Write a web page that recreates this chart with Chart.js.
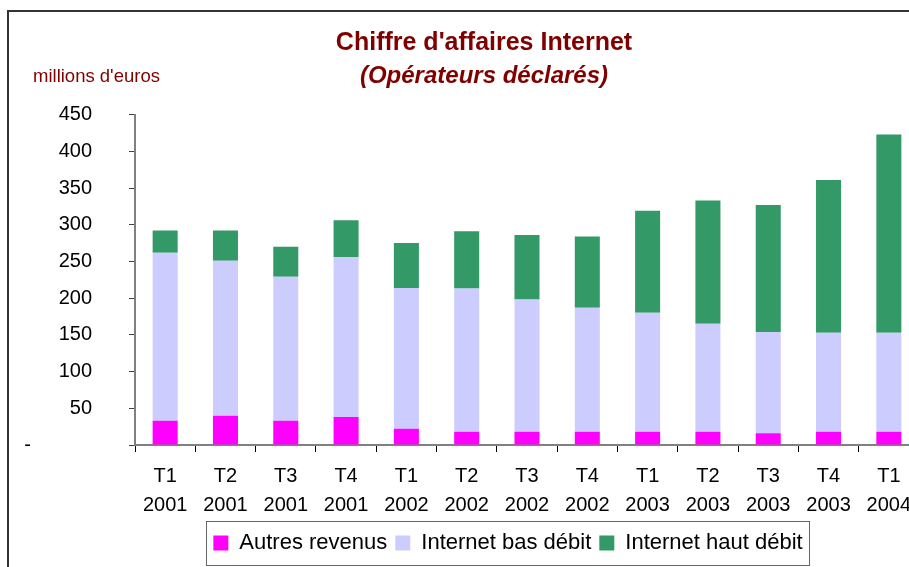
<!DOCTYPE html>
<html>
<head>
<meta charset="utf-8">
<title>Chiffre d'affaires Internet</title>
<script src="https://cdn.jsdelivr.net/npm/chart.js@4.4.1/dist/chart.umd.min.js"></script>
<style>
  body { margin: 0; overflow: hidden; background: #fff; }
  canvas { display: block; }
</style>
</head>
<body>
<canvas id="myChart" width="930" height="569"></canvas>
<script>
var quarters = ["T1", "T2", "T3", "T4", "T1", "T2", "T3", "T4", "T1", "T2", "T3", "T4", "T1"];
var years = ["2001", "2001", "2001", "2001", "2002", "2002", "2002", "2002", "2003", "2003", "2003", "2003", "2004"];

// millions d'euros
var autresRevenus = [33, 40, 33, 38, 22, 18, 18, 18, 18, 18, 16, 18, 18];
var basDebit = [229, 211, 196, 218, 192, 195, 180, 169, 162, 147, 138, 135, 135];
var hautDebit = [30, 41, 41, 50, 61, 78, 88, 97, 139, 168, 173, 208, 270];

var yMin = 0;
var yMax = 450;
var yStep = 50;

var labels = quarters.map(function(q, i) {
  return [q, years[i]];
});

var fontFamily = "'Liberation Sans', Arial, sans-serif";
Chart.defaults.font.family = fontFamily;
Chart.defaults.color = "#000";

var darkRed = "#800000";

// frame, unit label, legend box, legend position
var extras = {
  id: "extras",
  afterLayout: function(chart) {
    var lg = chart.legend;
    var dx = 508 - (lg.left + lg.right) / 2;
    var dy = 524 - lg.top;
    lg.left += dx;
    lg.right += dx;
    lg.top += dy;
    lg.bottom += dy;
    // let the "-" label of the y axis show (labels are clipped to the axis box)
    chart.scales.y.left = 0;
  },
  afterDraw: function(chart) {
    var ctx = chart.ctx;
    ctx.save();
    ctx.strokeStyle = "#333";
    ctx.lineWidth = 2;
    ctx.strokeRect(8, 11, chart.width, chart.height);

    var hb = chart.legend.legendHitBoxes;
    if (hb && hb.length) {
      var first = hb[0];
      var last = hb[hb.length - 1];
      var x1 = Math.round(first.left - 7) + 0.5;
      var x2 = Math.round(last.left + last.width + 6) + 0.5;
      var y1 = Math.round(first.top - 11) + 0.5;
      ctx.strokeStyle = "#666";
      ctx.lineWidth = 1;
      ctx.strokeRect(x1, y1, x2 - x1, 44);
    }

    ctx.fillStyle = darkRed;
    ctx.font = "18.5px " + fontFamily;
    ctx.textAlign = "left";
    ctx.textBaseline = "alphabetic";
    ctx.fillText("millions d'euros", 33, 82);
    ctx.restore();
  }
};

var ctx = document.getElementById("myChart");

var chart = new Chart(ctx, {
  type: "bar",
  data: {
    labels: labels,
    datasets: [
      {
        label: "Autres revenus",
        data: autresRevenus,
        backgroundColor: "#FF00FF"
      },
      {
        label: "Internet bas débit",
        data: basDebit,
        backgroundColor: "#CCCCFF"
      },
      {
        label: "Internet haut débit",
        data: hautDebit,
        backgroundColor: "#339966"
      }
    ]
  },
  options: {
    responsive: false,
    animation: false,
    barPercentage: 0.415,
    categoryPercentage: 1,
    layout: {
      padding: { left: 49, right: 11, top: 0, bottom: 0 }
    },
    scales: {
      x: {
        stacked: true,
        ticks: {
          padding: 9.5,
          maxRotation: 0,
          autoSkip: false,
          font: { size: 20, lineHeight: 1.45 }
        },
        grid: {
          offset: true,
          drawOnChartArea: false,
          tickLength: 7,
          tickColor: "#000"
        },
        border: { color: "#808080", width: 2 }
      },
      y: {
        stacked: true,
        min: yMin,
        max: yMax,
        ticks: {
          stepSize: yStep,
          padding: 37,
          font: { size: 20 },
          callback: function(value) {
            return value === 0 ? "-           " : value;
          }
        },
        grid: {
          drawOnChartArea: false,
          tickLength: 6,
          tickColor: "#404040"
        },
        border: { color: "#808080", width: 2 },
        afterFit: function(scale) {
          scale.width = 86;
        }
      }
    },
    plugins: {
      title: {
        display: true,
        text: "Chiffre d'affaires Internet",
        color: darkRed,
        font: { size: 25, weight: "bold" },
        padding: { top: 28, bottom: 0 }
      },
      subtitle: {
        display: true,
        text: "(Opérateurs déclarés)",
        color: darkRed,
        font: { size: 24, weight: "bold", style: "italic" },
        padding: { top: 3.5, bottom: 24.3 }
      },
      legend: {
        display: true,
        position: "bottom",
        fullSize: false,
        labels: {
          boxWidth: 15,
          boxHeight: 15,
          padding: 8,
          color: "#000",
          font: { size: 22 }
        }
      },
      tooltip: { enabled: false }
    }
  },
  plugins: [extras]
});
</script>
</body>
</html>
